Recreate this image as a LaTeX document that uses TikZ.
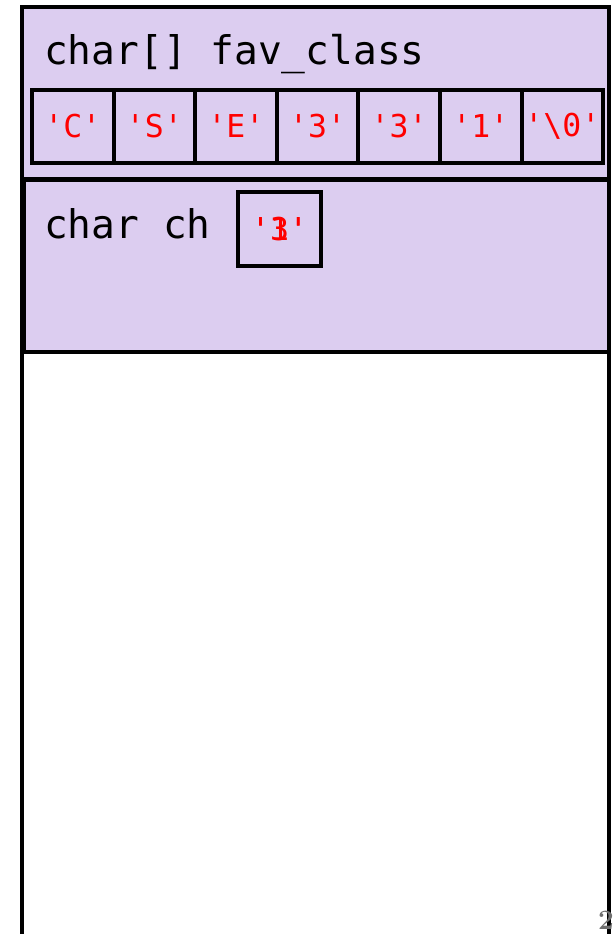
\documentclass[tikz,border=0pt]{standalone}
\usepackage{fontspec}
\newfontfamily\monofont{DejaVu Sans Mono}
\definecolor{framefill}{RGB}{220,205,240}
\definecolor{valred}{RGB}{255,0,0}
\definecolor{pagegray}{RGB}{110,110,110}
\begin{document}
\begin{tikzpicture}[x=1pt,y=-1pt,
  frame/.style={draw=black,line width=4pt,fill=framefill},
  cell/.style={draw=black,line width=4pt,fill=framefill,minimum width=81.5pt,minimum height=73pt,inner sep=0pt,anchor=north west},
  val/.style={text=valred,font=\monofont\fontsize{31.5}{31.5}\selectfont,inner sep=0pt},
  lbl/.style={font=\monofont\fontsize{39.5}{39.5}\selectfont,inner sep=0pt,anchor=base west}]
\useasboundingbox (0,0) rectangle (615,934);
\fill[white] (0,0) rectangle (615,934);
% outer stack lines
\draw[line width=4pt] (22,7) -- (22,940);
\draw[line width=4pt] (609,7) -- (609,940);
% frames
\draw[frame] (22,7) rectangle (609,179);
\draw[frame] (24,180) rectangle (609,352);
% array cells
\foreach \i/\t in {0/'C',1/'S',2/'E',3/'3',4/'3',5/'1',6/'\textbackslash 0'} {
  \node[cell] (c\i) at ({30+\i*81.6},88) {};
  \node[val] (v\i) at (c\i.center) {\t};
}
\node[lbl] (arrlbl) at (44,65) {char[] fav\_class};
\node[lbl] (chlbl) at (44,238) {char ch};
\node[cell,minimum width=83pt,minimum height=74pt] (chbox) at (236,190) {};
\node[val] (ch3) at (chbox.center) {'3'};
\node[val] (ch1) at (chbox.center) {'1'};
\node[text=pagegray,font=\bfseries\fontsize{28}{28}\selectfont,inner sep=0pt,anchor=base east] (pg) at (614,929) {2};
\end{tikzpicture}
\end{document}
